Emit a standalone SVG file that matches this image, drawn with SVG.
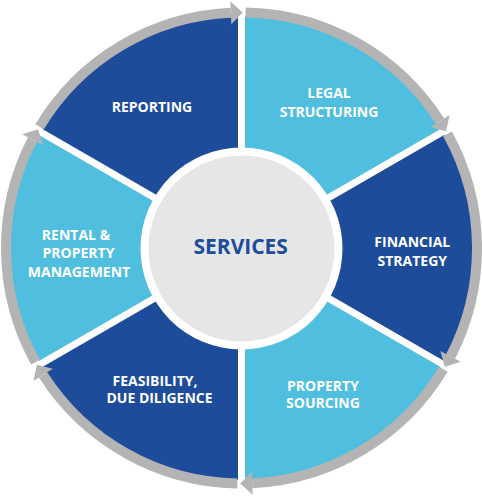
<svg xmlns="http://www.w3.org/2000/svg" xmlns:xlink="http://www.w3.org/1999/xlink" width="482" height="497" viewBox="0 0 482 497">
<style>
.dark{fill:#1d4c9b}
.light{fill:#50bfdf}
.lbl{font-family:"Open Sans","Noto Sans","Liberation Sans",sans-serif;font-weight:700;font-size:14px;fill:#ffffff;text-anchor:middle}
.ttl{font-family:"Open Sans","Noto Sans","Liberation Sans",sans-serif;font-weight:700;font-size:21px;fill:#1d4c9b;text-anchor:middle}
.band{fill:none;stroke:#b4b4b4;stroke-width:10}
.head{fill:#b4b4b4}
</style>
<defs>
<path id="slice" d="M245,241.94 L245,16.03 A232,232 0 0 1 440.64,128.98 Z"/>
<g id="arrow">
<path class="band" d="M245.61,12.54 A235.5,235.5 0 0 1 439.91,121.12"/>
<polygon class="head" points="449.60,114.92 446.06,131.32 430.22,127.32"/>
</g>
</defs>
<rect width="482" height="497" fill="#ffffff"/>
<g id="node-legal">
<use xlink:href="#slice" class="light"/>
<text class="lbl"><tspan x="329" y="98.3">LEGAL</tspan><tspan x="329" y="116.7">STRUCTURING</tspan></text>
</g>
<g id="node-financial">
<use xlink:href="#slice" class="dark" transform="rotate(60 241.5 248)"/>
<text class="lbl"><tspan x="412.3" y="247.3">FINANCIAL</tspan><tspan x="412.3" y="265.7">STRATEGY</tspan></text>
</g>
<g id="node-sourcing">
<use xlink:href="#slice" class="light" transform="rotate(120 241.5 248)"/>
<text class="lbl"><tspan x="323" y="390.7">PROPERTY</tspan><tspan x="323" y="408.3">SOURCING</tspan></text>
</g>
<g id="node-feasibility">
<use xlink:href="#slice" class="dark" transform="rotate(180 241.5 248)"/>
<text class="lbl"><tspan x="155" y="385.7">FEASIBILITY,</tspan><tspan x="159.5" y="403.3">DUE DILIGENCE</tspan></text>
</g>
<g id="node-rental">
<use xlink:href="#slice" class="light" transform="rotate(240 241.5 248)"/>
<text class="lbl"><tspan x="76" y="240">RENTAL &amp;</tspan><tspan x="78.5" y="258.3">PROPERTY</tspan><tspan x="79" y="276.7">MANAGEMENT</tspan></text>
</g>
<g id="node-reporting">
<use xlink:href="#slice" class="dark" transform="rotate(300 241.5 248)"/>
<text class="lbl"><tspan x="152" y="111.7">REPORTING</tspan></text>
</g>
<g id="connectors">
<use xlink:href="#arrow"/>
<use xlink:href="#arrow" transform="rotate(60 241.5 248)"/>
<use xlink:href="#arrow" transform="rotate(120 241.5 248)"/>
<use xlink:href="#arrow" transform="rotate(180 241.5 248)"/>
<use xlink:href="#arrow" transform="rotate(240 241.5 248)"/>
<use xlink:href="#arrow" transform="rotate(300 241.5 248)"/>
</g>
<g id="node-services">
<circle cx="241.5" cy="248.5" r="101" fill="#ffffff"/>
<circle cx="241.5" cy="248.5" r="93" fill="#e6e6e6"/>
<text class="ttl" x="240.7" y="254">SERVICES</text>
</g>
</svg>
